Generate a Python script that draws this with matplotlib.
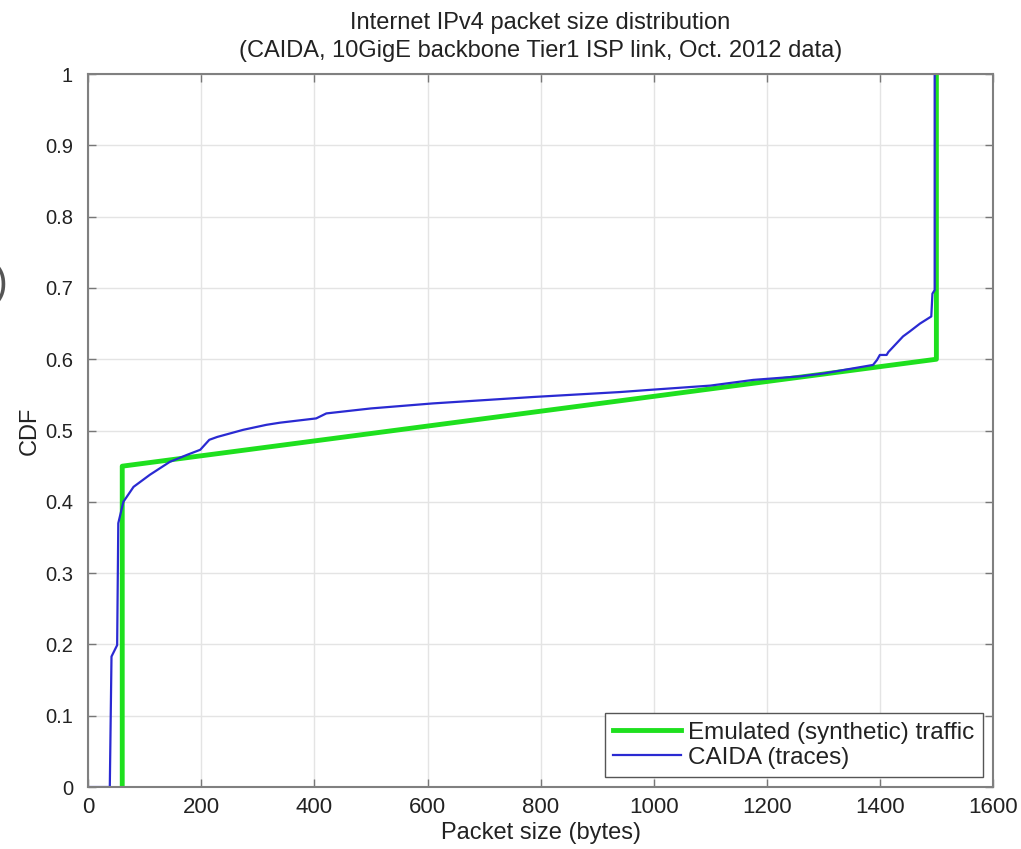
#!/usr/bin/env python3
"""CDF of IPv4 packet sizes: CAIDA backbone traces vs emulated traffic."""

import matplotlib

matplotlib.use("Agg")
import matplotlib.pyplot as plt

# Emulated (synthetic) traffic CDF: 60-byte and 1500-byte spikes with a uniform ramp between
emu_size = [60, 60, 1500, 1500]
emu_cdf = [0.0, 0.45, 0.60, 1.0]

# CAIDA trace CDF (Oct. 2012, 10GigE Tier1 link)
caida_size = [0, 38, 41, 51, 53, 62, 80, 109, 144, 175, 198, 214, 228, 274, 315, 339,
              403, 421, 500, 609, 786, 941, 993, 1100, 1176, 1259, 1300, 1388, 1395,
              1400, 1412, 1415, 1441, 1453, 1471, 1491, 1493, 1497, 1497]
caida_cdf = [0.0, 0.0, 0.183, 0.199, 0.370, 0.400, 0.421, 0.438, 0.456, 0.466, 0.473,
             0.487, 0.491, 0.501, 0.508, 0.511, 0.517, 0.524, 0.531, 0.538, 0.547,
             0.554, 0.557, 0.563, 0.571, 0.576, 0.580, 0.592, 0.599, 0.606, 0.606,
             0.610, 0.632, 0.639, 0.650, 0.660, 0.692, 0.697, 1.0]

x_ticks = [0, 200, 400, 600, 800, 1000, 1200, 1400, 1600]
y_ticks = [0, 0.1, 0.2, 0.3, 0.4, 0.5, 0.6, 0.7, 0.8, 0.9, 1]
y_ticklabels = ["0", "0.1", "0.2", "0.3", "0.4", "0.5", "0.6", "0.7", "0.8", "0.9", "1"]

plt.rcParams["font.family"] = ["Liberation Sans", "DejaVu Sans"]
plt.rcParams["font.size"] = 16

fig = plt.figure(figsize=(10.21, 8.49), dpi=100)
ax = fig.add_axes([0.0865, 0.073, 0.886, 0.8398])

ax.plot(emu_size, emu_cdf, color="#1ee01e", lw=3.5, label="Emulated (synthetic) traffic")
ax.plot(caida_size, caida_cdf, color="#2a2ad2", lw=1.6, label="CAIDA (traces)")

ax.set_xlim(0, 1600)
ax.set_ylim(0, 1)
ax.set_xticks(x_ticks)
ax.set_yticks(y_ticks)
ax.set_yticklabels(y_ticklabels)
ax.grid(True, color="#e4e4e4", lw=1.0)
ax.set_axisbelow(True)
ax.tick_params(direction="in", length=6, width=1, color="#777777", labelcolor="#222222",
               top=True, right=True)
ax.tick_params(axis="x", pad=7, labelsize=16)
ax.tick_params(axis="y", pad=11, labelsize=14.5)
for sp in ax.spines.values():
    sp.set_color("#808080")
    sp.set_linewidth(1.5)

ax.set_xlabel("Packet size (bytes)", color="#222222", fontsize=17, labelpad=3)
ax.set_ylabel("CDF", color="#222222", fontsize=17, labelpad=3)
ax.set_title("Internet IPv4 packet size distribution\n"
             "(CAIDA, 10GigE backbone Tier1 ISP link, Oct. 2012 data)",
             color="#222222", fontsize=17, pad=12, linespacing=1.4)

leg = ax.legend(loc="lower right", fontsize=17.5, frameon=True, fancybox=False,
                edgecolor="#555555", framealpha=1, borderpad=0.35, handlelength=2.8,
                handletextpad=0.3, labelspacing=0.12, borderaxespad=0.4)
leg.get_frame().set_linewidth(1.0)
for t in leg.get_texts():
    t.set_color("#222222")

# stray bracket left over at the edge of the canvas
fig.text(-0.006, 0.665, ")", fontsize=30, color="#555555", va="center")

fig.savefig("out.png", dpi=100)
